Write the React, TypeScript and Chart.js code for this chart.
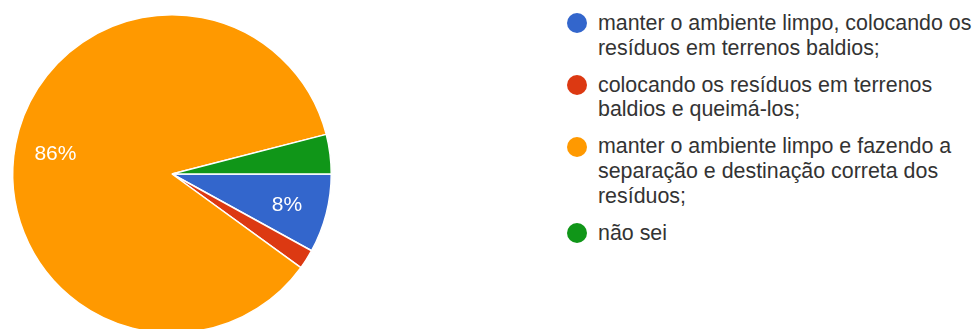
import React, { useEffect, useRef } from "react";
import { Chart, registerables } from "chart.js";

Chart.register(...registerables);

const categories = [
  "manter o ambiente limpo, colocando os resíduos em terrenos baldios;",
  "colocando os resíduos em terrenos baldios e queimá-los;",
  "manter o ambiente limpo e fazendo a separação e destinação correta dos resíduos;",
  "não sei",
];
const legendLines = [
  ["manter o ambiente limpo, colocando os", "resíduos em terrenos baldios;"],
  ["colocando os resíduos em terrenos", "baldios e queimá-los;"],
  ["manter o ambiente limpo e fazendo a", "separação e destinação correta dos", "resíduos;"],
  ["não sei"],
];
const counts = [4, 1, 43, 2];
const colors = ["#3366cc", "#dc3912", "#ff9900", "#109618"];

const FONT = "'Liberation Sans', Arial, sans-serif";

const pctLabels = {
  id: "pctLabels",
  afterDatasetsDraw(chart: any) {
    const ctx = chart.ctx;
    const meta = chart.getDatasetMeta(0);
    const data = chart.data.datasets[0].data as number[];
    const total = data.reduce((a, b) => a + b, 0);
    ctx.save();
    ctx.fillStyle = "#ffffff";
    ctx.font = `21px ${FONT}`;
    ctx.textAlign = "center";
    ctx.textBaseline = "middle";
    meta.data.forEach((arc: any, i: number) => {
      const pct = (data[i] / total) * 100;
      if (pct < 5) return;
      const { x, y, startAngle, endAngle, outerRadius } = arc.getProps(
        ["x", "y", "startAngle", "endAngle", "outerRadius"],
        true
      );
      const mid = (startAngle + endAngle) / 2;
      const r = outerRadius * 0.745;
      ctx.fillText(Math.round(pct) + "%", x + Math.cos(mid) * r, y + Math.sin(mid) * r + 2);
    });
    ctx.restore();
  },
};

export default function App() {
  const canvasRef = useRef<HTMLCanvasElement | null>(null);

  useEffect(() => {
    if (!canvasRef.current) return;
    const chart = new Chart(canvasRef.current, {
      type: "pie",
      data: {
        labels: categories,
        datasets: [
          {
            data: counts,
            backgroundColor: colors,
            borderColor: "#ffffff",
            borderWidth: 1.5,
          },
        ],
      },
      options: {
        animation: false,
        responsive: true,
        maintainAspectRatio: false,
        rotation: 90,
        layout: { padding: 12 },
        plugins: {
          legend: { display: false },
          tooltip: { enabled: false },
        },
      },
      plugins: [pctLabels],
    });
    return () => chart.destroy();
  }, []);

  return (
    <div
      style={{
        position: "fixed",
        left: 0,
        top: 0,
        width: 973,
        height: 329,
        overflow: "hidden",
        background: "#ffffff",
        fontFamily: FONT,
      }}
    >
      <div style={{ position: "absolute", left: 0, top: 0, width: 344, height: 348 }}>
        <canvas ref={canvasRef} />
      </div>
      <div style={{ position: "absolute", left: 567, top: 11, width: 406 }}>
        {legendLines.map((lines, i) => (
          <div
            key={i}
            style={{
              position: "relative",
              paddingLeft: 31,
              marginBottom: 12,
              fontSize: 21.4,
              lineHeight: "24.8px",
              color: "#333333",
              whiteSpace: "nowrap",
            }}
          >
            <span
              style={{
                position: "absolute",
                left: 0,
                top: 2.4,
                width: 20,
                height: 20,
                borderRadius: "50%",
                background: colors[i],
              }}
            />
            {lines.map((l, j) => (
              <div key={j}>{l}</div>
            ))}
          </div>
        ))}
      </div>
    </div>
  );
}
